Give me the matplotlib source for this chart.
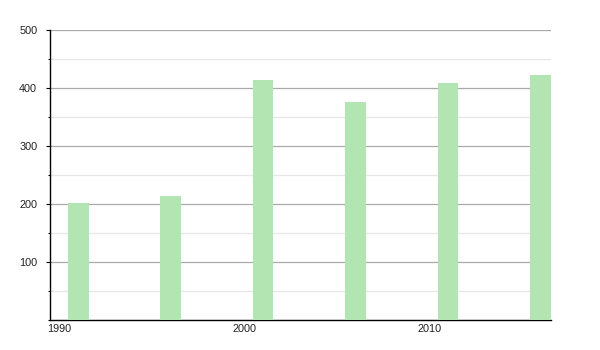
import matplotlib
matplotlib.use("Agg")
import matplotlib.pyplot as plt
from matplotlib.ticker import MultipleLocator

years = [1991, 1996, 2001, 2006, 2011, 2016]
values = [202, 214, 414, 376, 409, 423]
x_ticks = [1990, 2000, 2010]
y_ticks = [100, 200, 300, 400, 500]

plt.rcParams['font.family'] = ['Liberation Sans', 'DejaVu Sans']

fig = plt.figure(figsize=(6, 3.5), dpi=100)
ax = fig.add_axes([50/600, 1 - 320.3/350, 501/600, 290/350])

ax.bar(years, values, width=1.13, color='#b2e5b2', zorder=3)

ax.set_xlim(1989.48, 2016.57)
ax.set_ylim(0, 500)
ax.set_xticks(x_ticks)
ax.set_xticklabels([str(t) for t in x_ticks])
ax.set_yticks(y_ticks)
ax.set_yticklabels([str(t) for t in y_ticks])
ax.yaxis.set_minor_locator(MultipleLocator(50))

ax.grid(axis='y', which='major', color='#aaaaaa', linewidth=0.9, zorder=1)
ax.grid(axis='y', which='minor', color='#e6e6e6', linewidth=0.9, zorder=1)
ax.set_axisbelow(True)

for s in ['top', 'right']:
    ax.spines[s].set_visible(False)
ax.spines['left'].set_color('black')
ax.spines['bottom'].set_color('black')
ax.spines['left'].set_linewidth(1.0)
ax.spines['bottom'].set_linewidth(1.0)

ax.tick_params(axis='y', which='major', length=3.2, width=0.8, pad=6,
               labelsize=7.8, labelcolor='#222222')
ax.tick_params(axis='y', which='minor', length=1.5, width=0.8)
ax.tick_params(axis='x', which='major', length=0, pad=3,
               labelsize=7.8, labelcolor='#222222')

fig.savefig('out.png', dpi=100)
